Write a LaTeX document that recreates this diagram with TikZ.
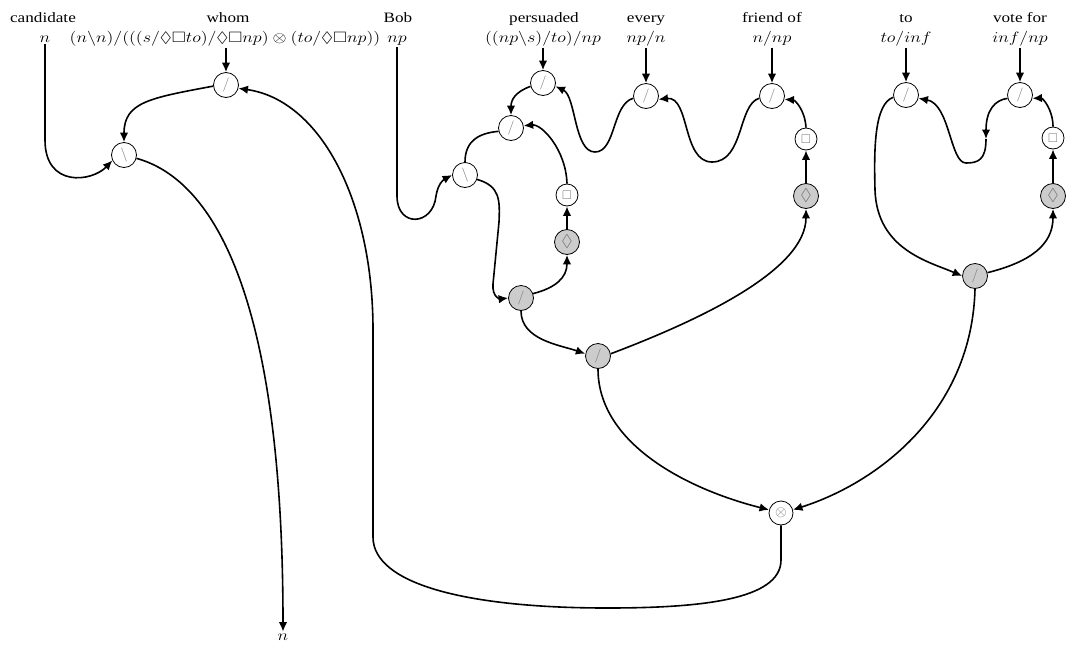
\RequirePackage{fix-cm}
\documentclass[tikz,border=0pt]{standalone}
\usepackage{amsmath,amssymb}
\usepackage{fontspec}
\setmainfont{Liberation Serif}[FakeStretch=1.2]
\usetikzlibrary{arrows.meta}
\newcommand{\mth}[1]{\scalebox{1.2}[1]{$#1$}}
\begin{document}
\begin{tikzpicture}[x=1pt,y=-1pt,
  link/.style={line width=1.6pt},
  arr/.style={link,-{Latex[length=9.5pt,width=8.5pt]}},
  lnk/.style={circle,draw,line width=0.8pt,inner sep=0pt,minimum size=25pt,fill=white,font=\fontsize{14}{14}\selectfont,text=black!55},
  grey/.style={lnk,fill=black!20},
  dia/.style={grey,font=\fontsize{17}{17}\selectfont},
  small/.style={lnk,minimum size=22pt,font=\fontsize{12.5}{12.5}\selectfont},
  word/.style={anchor=base,font=\fontsize{14.3}{16}\selectfont,inner sep=2pt},
  typ/.style={anchor=base,inner sep=2pt,font=\fontsize{15}{16}\selectfont}
]
\useasboundingbox (0,0) rectangle (1066,646);

% lexical labels
\node[word] (candW) at (43,22) {candidate};
\node[typ]  (candT) at (45,42) {\mth{n}};
\node[word] (whomW) at (228,22) {whom};
\node[typ]  (whomT) at (225,42) {\mth{(n\backslash n)/(((s/\Diamond\Box to)/\Diamond\Box np)\otimes(to/\Diamond\Box np))}};
\node[word] (bobW) at (398,22) {Bob};
\node[typ]  (bobT) at (397,42) {\mth{np}};
\node[word] (perW) at (544,22) {persuaded};
\node[typ]  (perT) at (543,42) {\mth{((np\backslash s)/to)/np}};
\node[word] (evW) at (646,22) {every};
\node[typ]  (evT) at (646,42) {\mth{np/n}};
\node[word] (frW) at (772,22) {friend of};
\node[typ]  (frT) at (772,42) {\mth{n/np}};
\node[word] (toW) at (906,22) {to};
\node[typ]  (toT) at (906,42) {\mth{to/inf}};
\node[word] (voW) at (1020,22) {vote for};
\node[typ]  (voT) at (1020,42) {\mth{inf/np}};
\node[typ,anchor=center] (outT) at (283,637) {\mth{n}};

% links
\node[lnk]   (W1) at (226,85)  {$/$};
\node[lnk]   (C1) at (124,155) {$\backslash$};
\node[lnk]   (P1) at (543,83)  {$/$};
\node[lnk]   (P2) at (511,128) {$/$};
\node[lnk]   (B1) at (465,175) {$\backslash$};
\node[small] (Pb) at (567,195) {$\Box$};
\node[dia]   (Pd) at (567,242) {$\Diamond$};
\node[grey]  (G1) at (521,298) {$/$};
\node[grey]  (G2) at (598,356) {$/$};
\node[lnk]   (E1) at (646,96)  {$/$};
\node[lnk]   (F1) at (772,96)  {$/$};
\node[small] (Fb) at (806,139) {$\Box$};
\node[dia]   (Fd) at (806,196) {$\Diamond$};
\node[lnk]   (T1) at (906,95)  {$/$};
\node[lnk]   (V1) at (1020,95) {$/$};
\node[small] (Vb) at (1053,138) {$\Box$};
\node[dia]   (Vd) at (1053,196) {$\Diamond$};
\node[grey]  (R1) at (975,276) {$/$};
\node[lnk,minimum size=24pt,font=\fontsize{15}{15}\selectfont] (X) at (781,513) {$\otimes$};
\coordinate (M1) at (986,139);

% connectors
\draw[arr] (W1 |- whomT.south) -- (W1);
\draw[arr] (P1 |- perT.south) -- (P1);
\draw[arr] (E1 |- evT.south) -- (E1);
\draw[arr] (F1 |- frT.south) -- (F1);
\draw[arr] (T1 |- toT.south) -- (T1);
\draw[arr] (V1 |- voT.south) -- (V1);

\draw[arr] (W1.185) .. controls (150,98) and (124,102) .. (C1.north);
\draw[arr] (candT.south) -- (45,140) .. controls (45,188) and (92,182) .. (C1.205);
\draw[arr] (C1.-15) .. controls (215,180) and (283,300) .. (outT.north);

\draw[arr] (bobT.south) -- (397,196) .. controls (397,228) and (433,226) .. (436,196) .. controls (438,184) and (443,180) .. (B1.west);
\draw[link] (B1.north) .. controls (465,140) and (480,133) .. (P2.195);
\draw[arr] (P1.195) .. controls (515,92) and (511,100) .. (P2.north);
\draw[arr] (Pb.north) .. controls (566,150) and (542,124) .. (P2.10);
\draw[arr] (Pd) -- (Pb);
\draw[arr] (G1.20) .. controls (555,288) and (567,278) .. (Pd.south);
\draw[arr] (B1.-20) .. controls (500,186) and (500,200) .. (499,222) -- (493,284) .. controls (492,297) and (500,299) .. (G1.west);
\draw[arr] (G1.south) .. controls (521,340) and (560,345) .. (G2.170);

\draw[arr] (E1.190) .. controls (612,104) and (616,152) .. (595,152) .. controls (574,152) and (576,96) .. (P1.-15);
\draw[arr] (F1.190) .. controls (738,104) and (744,162) .. (712,162) .. controls (682,162) and (690,96) .. (E1.-15);
\draw[arr] (Fb.north) .. controls (805,110) and (795,100) .. (F1.-15);
\draw[arr] (Fd) -- (Fb);
\draw[arr] (G2.10) .. controls (700,320) and (806,270) .. (Fd.south);

\draw[arr] (G2.south) .. controls (598,445) and (690,490) .. (X.165);
\draw[arr] (R1.south) .. controls (972,410) and (880,482) .. (X.15);

\draw[arr] (T1.190) .. controls (874,104) and (874,150) .. (875,190) .. controls (877,250) and (930,262) .. (R1.west);
\draw[arr] (R1.15) .. controls (1030,262) and (1053,245) .. (Vd.south);
\draw[arr] (Vd) -- (Vb);
\draw[arr] (Vb.north) .. controls (1053,110) and (1043,98) .. (V1.-15);
\draw[arr] (V1.195) .. controls (995,100) and (986,110) .. (M1);
\draw[arr] (M1) .. controls (986,160) and (978,163) .. (966,163) .. controls (950,163) and (950,104) .. (T1.-15);

\draw[arr] (X.south) -- (781,560) .. controls (781,600) and (700,608) .. (607,608) .. controls (470,608) and (373,585) .. (373,537) -- (373,330) .. controls (373,200) and (320,100) .. (W1.-15);
\end{tikzpicture}
\end{document}
